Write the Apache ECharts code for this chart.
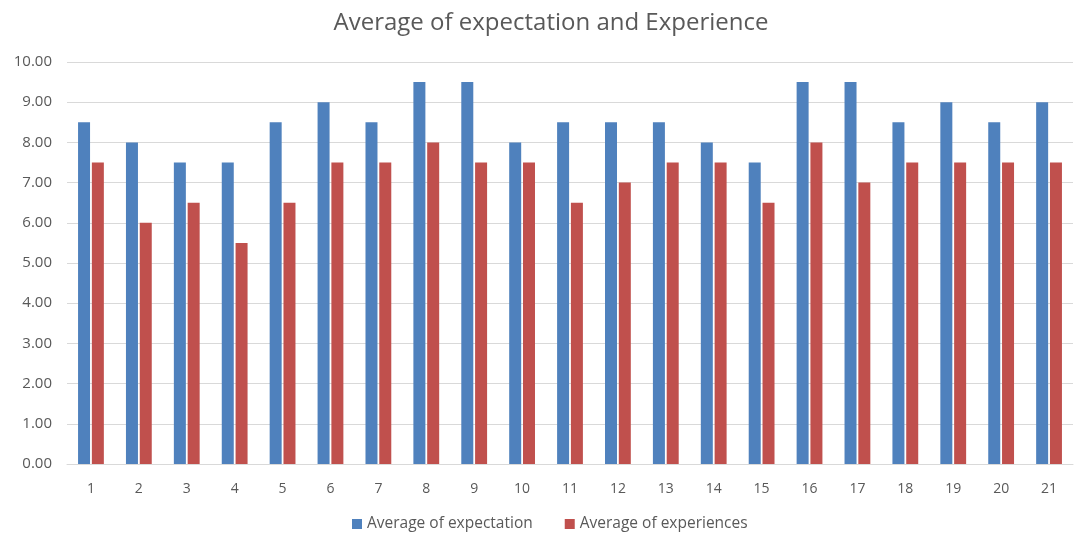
<!DOCTYPE html>
<html><head><meta charset="utf-8">
<script src="https://cdn.jsdelivr.net/npm/echarts@6/dist/echarts.min.js"></script>
<style>html,body{margin:0;padding:0;background:#fff}#c{width:1078px;height:537px}</style>
</head><body><div id="c"></div>
<script>
const categories = ['1','2','3','4','5','6','7','8','9','10','11','12','13','14','15','16','17','18','19','20','21'];
const expectation = [8.5, 8, 7.5, 7.5, 8.5, 9, 8.5, 9.5, 9.5, 8, 8.5, 8.5, 8.5, 8, 7.5, 9.5, 9.5, 8.5, 9, 8.5, 9];
const experiences = [7.5, 6, 6.5, 5.5, 6.5, 7.5, 7.5, 8, 7.5, 7.5, 6.5, 7, 7.5, 7.5, 6.5, 8, 7, 7.5, 7.5, 7.5, 7.5];
const seriesNames = ['Average of expectation', 'Average of experiences'];

const chart = echarts.init(document.getElementById('c'), null, {renderer: 'canvas'});
const txt = '#595959';
const ff = 'Open Sans, DejaVu Sans, sans-serif';
chart.setOption({
  animation: false,
  title: {text: 'Average of expectation and Experience', left: 546, textAlign: 'center', top: 6,
    textStyle: {color: txt, fontSize: 24, fontWeight: 'normal', fontFamily: ff}},
  legend: {bottom: 0, left: 347, itemWidth: 10, itemHeight: 10, itemGap: 32, icon: 'rect',
    textStyle: {color: txt, fontSize: 15.5, fontFamily: ff}, data: seriesNames},
  grid: {left: 67, right: 5, top: 62, bottom: 73, containLabel: false},
  xAxis: {type: 'category', data: categories,
    axisLine: {lineStyle: {color: '#d9d9d9'}}, axisTick: {show: false},
    axisLabel: {color: txt, fontSize: 14, margin: 18, fontFamily: ff}},
  yAxis: {type: 'value', min: 0, max: 10, interval: 1,
    axisLine: {show: false}, axisTick: {show: false},
    splitLine: {lineStyle: {color: '#d9d9d9'}},
    axisLabel: {color: txt, fontSize: 15, margin: 15, fontFamily: ff, formatter: v => v.toFixed(2)}},
  series: [
    {name: seriesNames[0], type: 'bar', data: expectation, barWidth: 12, barGap: '15%', itemStyle: {color: '#4F81BD'}},
    {name: seriesNames[1], type: 'bar', data: experiences, barWidth: 12, barGap: '15%', itemStyle: {color: '#C0504D'}}
  ]
});
</script></body></html>
